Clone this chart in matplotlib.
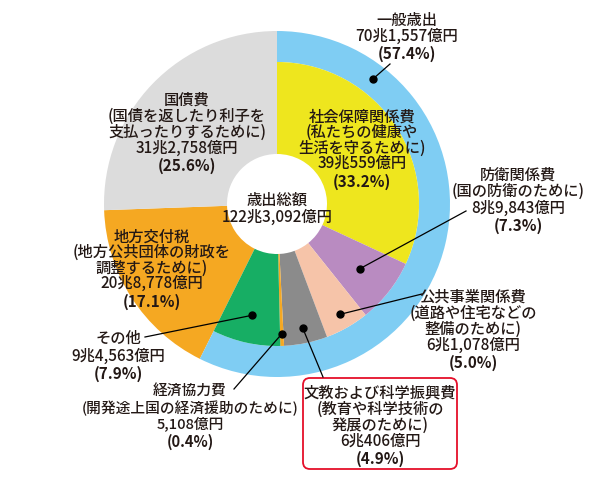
import numpy as np
import matplotlib
matplotlib.use("Agg")
import matplotlib.pyplot as plt
from matplotlib.patches import FancyBboxPatch

plt.rcParams['font.family'] = ['Noto Sans CJK JP', 'DejaVu Sans']

# 金額（億円）
general_total = 701557
item_names = ['社会保障関係費', '防衛関係費', '公共事業関係費',
              '文教および科学振興費', '経済協力費', 'その他']
item_amounts = [390559, 89843, 61078, 60406, 5108, 94563]
local_tax = 208778
debt = 312758
total_label = '122兆3,092億円'

item_colors = ['#EEE61E', '#B98BC1', '#F6C4A9', '#8B8B8B', '#F5A822', '#17AE64']
blue = '#7FCDF3'
orange = '#F5A822'
lgray = '#DCDCDC'

H = 481
cx, cy = 277, H - 205
R, R_in, R_hole = 173, 142, 50

fig = plt.figure(figsize=(5.95, 4.81), dpi=100)
ax = fig.add_axes([0, 0, 1, 1])

# 地方交付税・国債費（外周まで）
ax.pie([general_total, local_tax, debt], radius=R, center=(cx, cy), startangle=90,
       counterclock=False, colors=['none', orange, lgray],
       wedgeprops=dict(width=R - R_hole, linewidth=0))
# 一般歳出のリング
ax.pie([general_total, local_tax + debt], radius=R, center=(cx, cy), startangle=90,
       counterclock=False, colors=[blue, 'none'],
       wedgeprops=dict(width=R - R_in, linewidth=0))
# 一般歳出の内訳
wedges, _ = ax.pie(item_amounts + [local_tax + debt], radius=R_in, center=(cx, cy),
                   startangle=90, counterclock=False, colors=item_colors + ['none'],
                   wedgeprops=dict(width=R_in - R_hole, linewidth=0))

ax.set_xlim(0, 595)
ax.set_ylim(0, H)
ax.axis('off')


def txt(x, y, s, bold=False, size=11):
    ax.text(x, H - y, s, ha='center', va='center', fontsize=size,
            fontweight='bold' if bold else 'medium', color='#231815')


def label(x, y0, lines, step=16, last=18, size=11):
    y = y0
    for i, s in enumerate(lines):
        is_last = i == len(lines) - 1
        if is_last and i > 0:
            y += last - step
        txt(x, y, s, bold=is_last, size=size)
        y += step


def leader(angle_deg, r, end):
    a = np.radians(angle_deg)
    px, py = cx + r * np.cos(a), cy + r * np.sin(a)
    ax.plot([px, end[0]], [py, H - end[1]], color='black', lw=0.9)
    ax.plot(px, py, 'o', color='black', ms=5)


def mid(w):
    return (w.theta1 + w.theta2) / 2


# 中央
txt(cx, 200, '歳出総額')
txt(cx, 217, total_label)

# 一般歳出
label(407, 20, ['一般歳出', '70兆1,557億円', '(57.4%)'])
leader(90 - 37.5, (R + R_in) / 2, (390, 65))

# 社会保障関係費
label(362, 117, ['社会保障関係費', '(私たちの健康や', '生活を守るために)',
                 '39兆559億円', '(33.2%)'], step=15.5)

# 防衛関係費
label(518, 175, ['防衛関係費', '(国の防衛のために)', '8兆9,843億円', '(7.3%)'], step=16.5)
leader(mid(wedges[1]), 105, (466, 212))

# 公共事業関係費
label(473, 297, ['公共事業関係費', '(道路や住宅などの', '整備のために)',
                 '6兆1,078億円', '(5.0%)'])
leader(mid(wedges[2]), 127, (422, 295))

# 文教および科学振興費
box = FancyBboxPatch((303, H - 470), 154, 91, boxstyle='round,pad=0,rounding_size=7',
                     fc='white', ec='#E50F2A', lw=1.3)
ax.add_patch(box)
label(380, 393, ['文教および科学振興費', '(教育や科学技術の', '発展のために)',
                 '6兆406億円', '(4.9%)'])
leader(mid(wedges[3]), 127, (323, 378))

# 経済協力費
label(190, 392, ['経済協力費', '(開発途上国の経済援助のために)', '5,108億円', '(0.4%)'],
      step=16, size=10.6)
leader(mid(wedges[4]), 130, (234, 390))

# その他
label(118, 338, ['その他', '9兆4,563億円', '(7.9%)'], step=18)
leader(mid(wedges[5]), 114, (145, 338))

# 地方交付税
label(152, 237, ['地方交付税', '(地方公共団体の財政を', '調整するために)',
                 '20兆8,778億円', '(17.1%)'], step=15.5)

# 国債費
label(187, 100, ['国債費', '(国債を返したり利子を', '支払ったりするために)',
                 '31兆2,758億円', '(25.6%)'], step=16)

fig.savefig('out.png', dpi=100)
